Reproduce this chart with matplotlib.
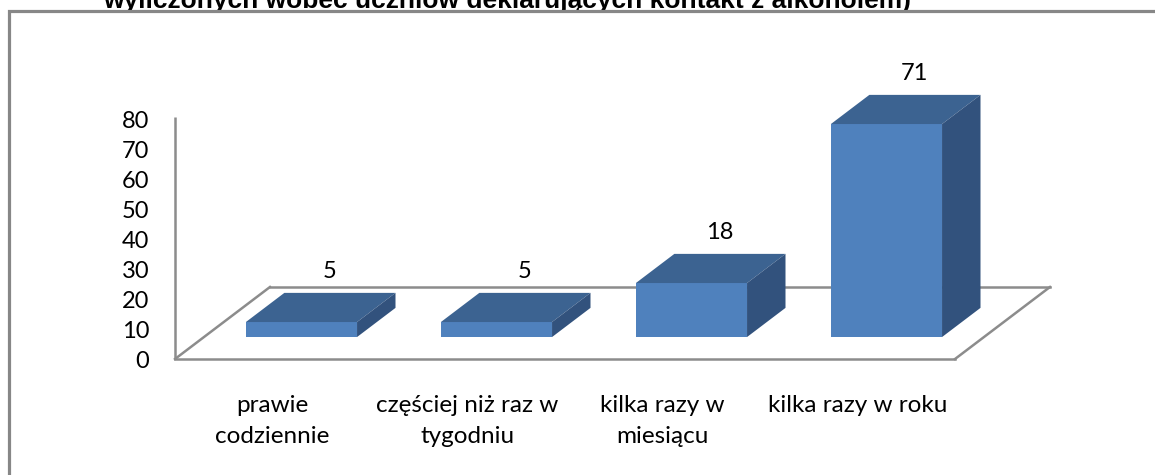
import numpy as np
import matplotlib.pyplot as plt
from matplotlib.patches import Polygon, Rectangle

############### Data
categories = ['prawie\ncodziennie', 'częściej niż raz w\ntygodniu',
              'kilka razy w\nmiesiącu', 'kilka razy w roku']
values = [5, 5, 18, 71]
yticks = [0, 10, 20, 30, 40, 50, 60, 70, 80]
title = 'wyliczonych wobec uczniów deklarujących kontakt z alkoholem)'

############### Look
W, H = 1155, 475
front_c = '#4F81BD'
top_c = '#3C6391'
side_c = '#32527D'
grid_c = '#8C8C8C'
font = ['Lato', 'DejaVu Sans']

# pseudo 3d: depth d in [0,1] moves (dx, dy) in data units
dx, dy = 0.487, 24.0
d0, d1 = 0.305, 0.71
bw = 0.57

fig = plt.figure(figsize=(W / 100, H / 100), dpi=100)
ax = fig.add_axes([0, 0, 1, 1])
ax.set_xlim(-175 / 195, (W - 175) / 195)
ax.set_ylim((359 - H) / 3.0, 359 / 3.0)
ax.axis('off')

############### Floor and wall
n = len(values)
ax.plot([0, n], [0, 0], color=grid_c, lw=1.8, zorder=1)
ax.plot([0, dx], [0, dy], color=grid_c, lw=1.8, zorder=1)
ax.plot([dx, n + dx], [dy, dy], color=grid_c, lw=1.8, zorder=1)
ax.plot([n + dx, n], [dy, 0], color=grid_c, lw=1.8, zorder=1)
ax.vlines(0, 0, yticks[-1] + 0.7, color=grid_c, lw=1.8, zorder=1)

############### Bars
x = np.arange(n) + 0.5 + dx * d0
base = dy * d0
ax.bar(x, values, width=bw, bottom=base, color=front_c, lw=0, zorder=3)
ddx, ddy = dx * (d1 - d0), dy * (d1 - d0)
for xc, v in zip(x, values):
    xl, xr = xc - bw / 2, xc + bw / 2
    top = base + v
    ax.add_patch(Polygon([(xl, top), (xr, top), (xr + ddx, top + ddy), (xl + ddx, top + ddy)],
                         closed=True, fc=top_c, lw=0, zorder=3))
    ax.add_patch(Polygon([(xr, base), (xr + ddx, base + ddy), (xr + ddx, top + ddy), (xr, top)],
                         closed=True, fc=side_c, lw=0, zorder=3))
    ax.text(xc + 0.144, top + ddy + 7, str(v), ha='center', va='center',
            fontsize=17, family=font, zorder=4)

############### Category labels
for i, lab in enumerate(categories):
    ax.text(i + 0.5, -12.0, lab, ha='center', va='top', fontsize=17.5,
            family=font, linespacing=1.6)

############### Value axis labels
ax2 = fig.add_axes([175 / W, 0, 0.01, 1])
ax2.set_ylim(ax.get_ylim())
ax2.set_yticks(yticks)
ax2.set_xticks([])
ax2.tick_params(axis='y', length=0, pad=18.5)
for lbl in ax2.get_yticklabels():
    lbl.set_fontsize(17)
    lbl.set_family(font)
ax2.patch.set_alpha(0)
for s in ax2.spines.values():
    s.set_visible(False)

############### Title (cut off) and frame
fig.text(103 / W, 1 - 8 / H, title, ha='left', va='baseline',
         fontsize=19, fontweight='bold', family=['Liberation Sans', 'DejaVu Sans'])
fig.patches.append(Rectangle((8.5 / W, -0.1), 1.2, 1 - 10.5 / H + 0.1,
                             transform=fig.transFigure, fill=False,
                             ec='#878787', lw=2.3, zorder=10))

fig.savefig('out.png', dpi=100)
